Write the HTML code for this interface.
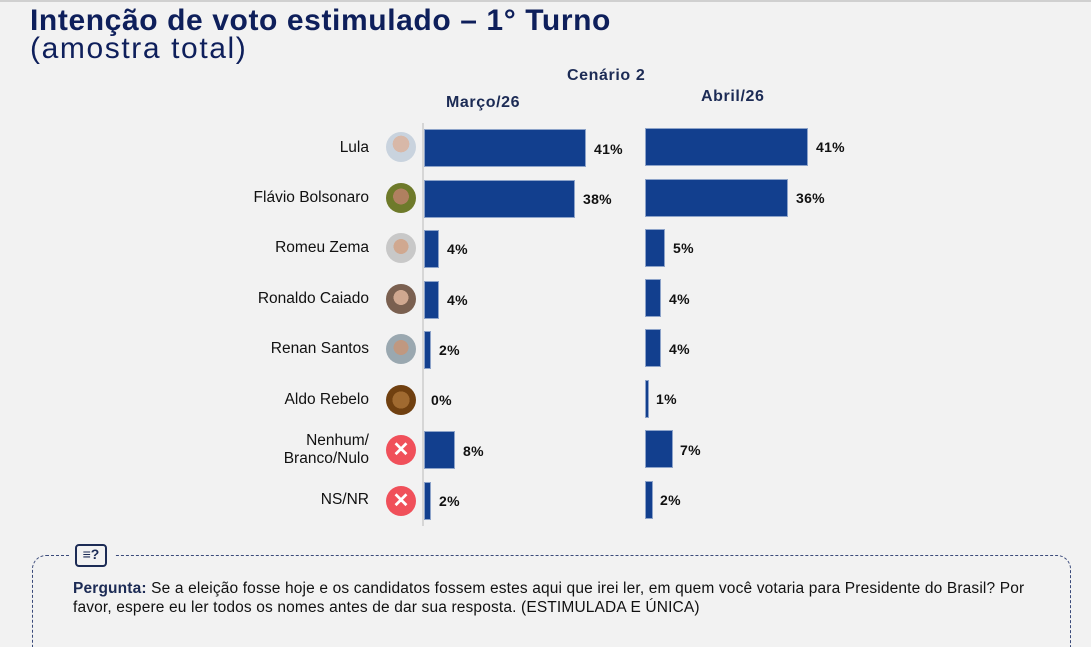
<!DOCTYPE html>
<html><head><meta charset="utf-8"><style>
*{margin:0;padding:0;box-sizing:border-box}
html,body{width:1091px;height:647px;overflow:hidden}
body{background:#f2f2f2;position:relative;font-family:"Liberation Sans",sans-serif}
.a{position:absolute;white-space:nowrap}
.t1{left:30px;top:4px;font-size:30px;font-weight:bold;color:#0e1f5b;letter-spacing:0.6px}
.t2{left:30px;top:32px;font-size:30px;color:#0e1f5b;letter-spacing:1.6px}
.h{font-size:16px;font-weight:bold;color:#1c2b55;letter-spacing:0.6px}
.bar{position:absolute;background:#123f8e;border:1px solid #8da3c9;height:38px}
.pct{position:absolute;font-size:14px;font-weight:bold;color:#111;letter-spacing:0.3px}
.name{position:absolute;right:722px;font-size:15.5px;color:#111;text-align:right;line-height:18px}
.av{position:absolute;left:386px;width:30px;height:30px;border-radius:50%}
.x{background:#f0505a;color:#fff;font-weight:bold;font-size:20px;text-align:center;line-height:30px}
</style></head><body>
<div style="position:absolute;left:0;top:0;width:1091px;height:2px;background:#d0d0d0"></div>
<div class="a t1">Intenção de voto estimulado – 1° Turno</div>
<div class="a t2">(amostra total)</div>
<div class="a h" style="left:567px;top:67px">Cenário 2</div>
<div class="a h" style="left:446px;top:94px">Março/26</div>
<div class="a h" style="left:701px;top:88px">Abril/26</div>
<div style="position:absolute;left:422px;top:123px;width:2px;height:403px;background:#d6d6d6"></div>

<div class="name" style="top:139px">Lula</div>
<div class="name" style="top:189px">Flávio Bolsonaro</div>
<div class="name" style="top:239px">Romeu Zema</div>
<div class="name" style="top:290px">Ronaldo Caiado</div>
<div class="name" style="top:340px">Renan Santos</div>
<div class="name" style="top:391px">Aldo Rebelo</div>
<div class="name" style="top:432px">Nenhum/<br>Branco/Nulo</div>
<div class="name" style="top:491px">NS/NR</div>

<div class="av" style="top:132px;background:radial-gradient(circle at 50% 40%,#d8b8a8 0 35%,#c9d3de 36%)"></div>
<div class="av" style="top:183px;background:radial-gradient(circle at 50% 45%,#b08060 0 35%,#6e7a2a 36%)"></div>
<div class="av" style="top:233px;background:radial-gradient(circle at 50% 45%,#d0a890 0 33%,#c8c8c8 34%)"></div>
<div class="av" style="top:284px;background:radial-gradient(circle at 50% 45%,#d0a890 0 33%,#7a6050 34%)"></div>
<div class="av" style="top:334px;background:radial-gradient(circle at 50% 45%,#c09880 0 33%,#9aa8b0 34%)"></div>
<div class="av" style="top:385px;background:radial-gradient(circle at 50% 50%,#a06a30 0 40%,#704010 41%)"></div>
<div class="av x" style="top:435px">✕</div>
<div class="av x" style="top:486px">✕</div>

<div class="bar" style="left:424px;top:129px;width:162px"></div><div class="pct" style="left:594px;top:141px">41%</div>
<div class="bar" style="left:424px;top:180px;width:151px"></div><div class="pct" style="left:583px;top:191px">38%</div>
<div class="bar" style="left:424px;top:230px;width:15px"></div><div class="pct" style="left:447px;top:241px">4%</div>
<div class="bar" style="left:424px;top:281px;width:15px"></div><div class="pct" style="left:447px;top:292px">4%</div>
<div class="bar" style="left:424px;top:331px;width:7px"></div><div class="pct" style="left:439px;top:342px">2%</div>
<div class="pct" style="left:431px;top:392px">0%</div>
<div class="bar" style="left:424px;top:431px;width:31px"></div><div class="pct" style="left:463px;top:443px">8%</div>
<div class="bar" style="left:424px;top:482px;width:7px"></div><div class="pct" style="left:439px;top:493px">2%</div>

<div class="bar" style="left:645px;top:128px;width:163px"></div><div class="pct" style="left:816px;top:139px">41%</div>
<div class="bar" style="left:645px;top:179px;width:143px"></div><div class="pct" style="left:796px;top:190px">36%</div>
<div class="bar" style="left:645px;top:229px;width:20px"></div><div class="pct" style="left:673px;top:240px">5%</div>
<div class="bar" style="left:645px;top:279px;width:16px"></div><div class="pct" style="left:669px;top:291px">4%</div>
<div class="bar" style="left:645px;top:329px;width:16px"></div><div class="pct" style="left:669px;top:341px">4%</div>
<div class="bar" style="left:645px;top:380px;width:4px"></div><div class="pct" style="left:656px;top:391px">1%</div>
<div class="bar" style="left:645px;top:430px;width:28px"></div><div class="pct" style="left:680px;top:442px">7%</div>
<div class="bar" style="left:645px;top:481px;width:8px"></div><div class="pct" style="left:660px;top:492px">2%</div>

<div style="position:absolute;left:32px;top:555px;width:1039px;height:120px;border:1.5px dashed #3a4a7a;border-radius:14px"></div>
<div style="position:absolute;left:70px;top:541px;width:44px;height:30px;background:#f2f2f2"></div>
<div style="position:absolute;left:75px;top:544px;width:32px;height:23px;border:2.5px solid #1c2b55;border-radius:4px;font-size:14px;font-weight:bold;color:#1c2b55;line-height:17px;text-align:center">≡?</div>
<div style="position:absolute;left:73px;top:579px;width:1000px;font-size:15.5px;letter-spacing:0.15px;color:#111;line-height:19px;white-space:nowrap"><b style="color:#1c2b55">Pergunta:</b> Se a eleição fosse hoje e os candidatos fossem estes aqui que irei ler, em quem você votaria para Presidente do Brasil? Por<br>favor, espere eu ler todos os nomes antes de dar sua resposta. (ESTIMULADA E ÚNICA)</div>
</body></html>
